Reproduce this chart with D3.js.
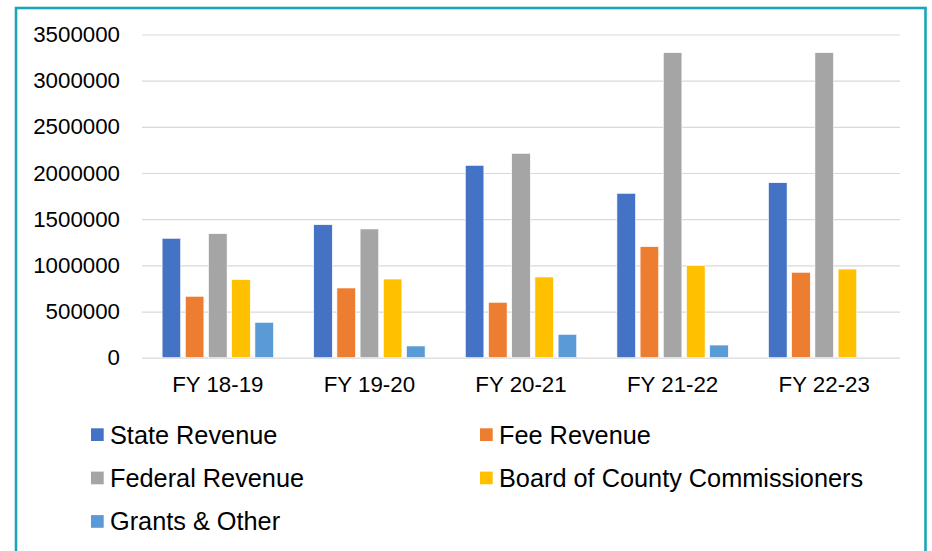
<!DOCTYPE html>
<html>
<head>
<meta charset="utf-8">
<script src="https://cdn.jsdelivr.net/npm/d3@7"></script>
<style>
  html, body { margin: 0; padding: 0; background: #fff; }
  svg { display: block; font-family: "Liberation Sans", Arial, sans-serif; }
</style>
</head>
<body>
<div id="chart"></div>
<script>
// Revenue by fiscal year
const years = ["FY 18-19", "FY 19-20", "FY 20-21", "FY 21-22", "FY 22-23"];
const seriesNames = ["State Revenue", "Fee Revenue", "Federal Revenue", "Board of County Commissioners", "Grants & Other"];
const stateRevenue   = [1293000, 1440000, 2083000, 1780000, 1895000];
const feeRevenue     = [665000, 755000, 600000, 1202000, 925000];
const federalRevenue = [1343000, 1394000, 2213000, 3303000, 3303000];
const boardRevenue   = [845000, 852000, 874000, 996000, 960000];
const grantsOther    = [383000, 127000, 253000, 137000, 0];
const yTicks = [0, 500000, 1000000, 1500000, 2000000, 2500000, 3000000, 3500000];
const colors = ["#4472C4", "#ED7D31", "#A5A5A5", "#FFC000", "#5B9BD5"];

const seriesValues = [stateRevenue, feeRevenue, federalRevenue, boardRevenue, grantsOther];
const data = years.map((yr, i) => ({
    year: yr,
    values: seriesNames.map((s, j) => ({ series: s, value: seriesValues[j][i] }))
}));

const W = 932, H = 551;
const plot = { left: 142, right: 900, top: 34.5, bottom: 357.7 };

const svg = d3.select("#chart").append("svg")
    .attr("width", W)
    .attr("height", H);

svg.append("rect").attr("width", W).attr("height", H).attr("fill", "#fff");

// teal frame, bottom edge runs off the picture
svg.append("rect")
    .attr("x", 16).attr("y", 8)
    .attr("width", 909.5).attr("height", 600)
    .attr("fill", "none")
    .attr("stroke", "#1aa6b7")
    .attr("stroke-width", 2.6);

const x0 = d3.scaleBand().domain(years).range([plot.left, plot.right]);
const x1 = d3.scaleBand().domain(seriesNames).range([0, x0.bandwidth()])
    .paddingInner(0.2).paddingOuter(0.867);
const y = d3.scaleLinear().domain([0, 3500000]).range([plot.bottom, plot.top]);
const color = d3.scaleOrdinal().domain(seriesNames).range(colors);

// y axis + gridlines
const yAxis = svg.append("g")
    .attr("transform", `translate(${plot.left},0)`)
    .call(d3.axisLeft(y).tickValues(yTicks).tickFormat(d3.format("d"))
        .tickSizeInner(-(plot.right - plot.left)).tickSizeOuter(0).tickPadding(22));
yAxis.select(".domain").remove();
yAxis.selectAll("line").attr("stroke", "#d9d9d9").attr("stroke-width", 1.2);
yAxis.selectAll("text").attr("fill", "#000").style("font-size", "22.3px")
    .style("font-family", "Liberation Sans, Arial, sans-serif");

// bars
const groups = svg.append("g").selectAll("g")
    .data(data)
    .join("g")
    .attr("transform", d => `translate(${x0(d.year)},0)`);

groups.selectAll("rect")
    .data(d => d.values.filter(v => v.value > 0))
    .join("rect")
    .attr("x", d => x1(d.series))
    .attr("y", d => y(d.value))
    .attr("width", x1.bandwidth())
    .attr("height", d => y(0) - y(d.value))
    .attr("fill", d => color(d.series))
    .attr("stroke", "#fff")
    .attr("stroke-width", 0.6);

// x axis
const xAxis = svg.append("g")
    .attr("transform", `translate(0,${plot.bottom})`)
    .call(d3.axisBottom(x0).tickSize(0).tickPadding(18.7));
xAxis.select(".domain").remove();
xAxis.selectAll("text").attr("fill", "#000").style("font-size", "22.3px")
    .style("font-family", "Liberation Sans, Arial, sans-serif");

// legend, two columns
const legendCols = [91, 480];
const legendRows = [434.7, 478, 521.5];
const legend = svg.append("g").selectAll("g")
    .data(seriesNames)
    .join("g")
    .attr("transform", (d, i) => `translate(${legendCols[i % 2]},${legendRows[Math.floor(i / 2)]})`);

legend.append("rect")
    .attr("x", 0).attr("y", -6.4)
    .attr("width", 12.7).attr("height", 12.7)
    .attr("fill", d => color(d));

legend.append("text")
    .attr("x", 19)
    .attr("y", 8.8)
    .style("font-size", "25.3px")
    .attr("fill", "#000")
    .text(d => d);
</script>
</body>
</html>
